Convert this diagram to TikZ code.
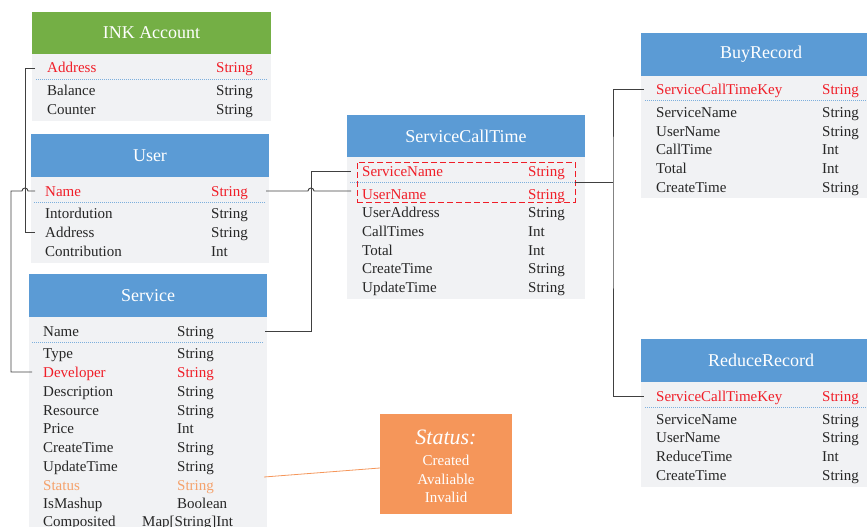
\documentclass[tikz,border=0pt]{standalone}
\usepackage{fontspec}
\setmainfont{Liberation Serif}
\definecolor{hblue}{HTML}{5B9BD5}
\definecolor{hgreen}{HTML}{74AF45}
\definecolor{bodyg}{HTML}{F1F2F4}
\definecolor{txt}{HTML}{262626}
\definecolor{kred}{HTML}{F01E28}
\definecolor{stor}{HTML}{F5A26C}
\definecolor{boxor}{HTML}{F5965A}
\definecolor{lnk}{HTML}{404040}
\newcommand{\fldfont}{\fontsize{15}{18}\selectfont}
\newcommand{\hdrfont}{\fontsize{18}{21}\selectfont}
\newcommand{\tbl}[8]{%
  \fill[#6] (#1,#2) rectangle (#3,#4);
  \fill[bodyg] (#1,#4) rectangle (#3,#5);
  \node[title] (#8) at ({(#1+#3)/2},{(#2+#4)/2}) {#7};}
\begin{document}
\begin{tikzpicture}[x=1pt,y=-1pt,
  fld/.style={anchor=west, inner sep=0pt, text height=10pt, text depth=0pt, font=\fldfont, text=txt},
  key/.style={fld, text=kred},
  stat/.style={fld, text=stor},
  title/.style={inner sep=0pt, font=\hdrfont, text=white},
  sep/.style={hblue!80, line width=0.8pt, dash pattern=on 1pt off 1pt},
  link/.style={lnk, line width=0.9pt},
  olink/.style={boxor, line width=0.8pt},
  sbox/.style={fill=boxor, inner sep=0pt, minimum width=132pt, minimum height=100pt, align=center, text=white}]
\useasboundingbox (0,0) rectangle (867,527);
\clip (0,0) rectangle (867,527);

% ---------- INK Account ----------
\tbl{32}{12}{271}{54}{121}{hgreen}{INK Account}{inkh}
\node[key] (inkA) at (47,68) {Address};
\node[key] (inkAt) at (216,68) {String};
\draw[sep] (36,79) -- (268,79);
\node[fld] (inkB) at (47,90) {Balance};
\node[fld] (inkBt) at (216,90) {String};
\node[fld] (inkC) at (47,109) {Counter};
\node[fld] (inkCt) at (216,109) {String};

% ---------- User ----------
\tbl{31}{134}{269}{177}{263}{hblue}{User}{userh}
\node[key] (uN) at (45,191) {Name};
\node[key] (uNt) at (211,191) {String};
\draw[sep] (34,202) -- (266,202);
\node[fld] (uI) at (45,213) {Intordution};
\node[fld] (uIt) at (211,213) {String};
\node[fld] (uA) at (45,232) {Address};
\node[fld] (uAt) at (211,232) {String};
\node[fld] (uC) at (45,251) {Contribution};
\node[fld] (uCt) at (211,251) {Int};

% ---------- Service ----------
\tbl{29}{274}{267}{317}{540}{hblue}{Service}{svch}
\node[fld] (sN) at (43,331) {Name};
\node[fld] (sNt) at (177,331) {String};
\draw[sep] (32,342) -- (263,342);
\node[fld] (sT) at (43,353) {Type};
\node[fld] (sTt) at (177,353) {String};
\node[key] (sD) at (43,372) {Developer};
\node[key] (sDt) at (177,372) {String};
\node[fld] (sDe) at (43,391) {Description};
\node[fld] (sDet) at (177,391) {String};
\node[fld] (sR) at (43,410) {Resource};
\node[fld] (sRt) at (177,410) {String};
\node[fld] (sP) at (43,428) {Price};
\node[fld] (sPt) at (177,428) {Int};
\node[fld] (sC) at (43,447) {CreateTime};
\node[fld] (sCt) at (177,447) {String};
\node[fld] (sU) at (43,466) {UpdateTime};
\node[fld] (sUt) at (177,466) {String};
\node[stat] (sS) at (43,485) {Status};
\node[stat] (sSt) at (177,485) {String};
\node[fld] (sM) at (43,503) {IsMashup};
\node[fld] (sMt) at (177,503) {Boolean};
\node[fld] (sCo) at (43,521) {Composited};
\node[fld] (sCot) at (142,521) {Map[String]Int};

% ---------- ServiceCallTime ----------
\tbl{347}{115}{585}{157}{299}{hblue}{ServiceCallTime}{scth}
\node[key] (cS) at (362,171) {ServiceName};
\node[key] (cSt) at (528,171) {String};
\draw[sep] (350,182) -- (575,182);
\node[key] (cU) at (362,194) {UserName};
\node[key] (cUt) at (528,194) {String};
\node[draw=kred, dash pattern=on 6pt off 3pt, line width=0.9pt, inner sep=0pt, minimum width=218pt, minimum height=40pt] (cbox) at (466,182) {};
\node[fld] (cUA) at (362,212) {UserAddress};
\node[fld] (cUAt) at (528,212) {String};
\node[fld] (cCT) at (362,231) {CallTimes};
\node[fld] (cCTt) at (528,231) {Int};
\node[fld] (cTo) at (362,250) {Total};
\node[fld] (cTot) at (528,250) {Int};
\node[fld] (cCr) at (362,268) {CreateTime};
\node[fld] (cCrt) at (528,268) {String};
\node[fld] (cUp) at (362,287) {UpdateTime};
\node[fld] (cUpt) at (528,287) {String};

% ---------- BuyRecord ----------
\tbl{641}{33}{881}{76}{198}{hblue}{BuyRecord}{buyh}
\node[key] (bK) at (656,89) {ServiceCallTimeKey};
\node[key] (bKt) at (822,89) {String};
\draw[sep] (645,100) -- (867,100);
\node[fld] (bS) at (656,112) {ServiceName};
\node[fld] (bSt) at (822,112) {String};
\node[fld] (bU) at (656,131) {UserName};
\node[fld] (bUt) at (822,131) {String};
\node[fld] (bC) at (656,149) {CallTime};
\node[fld] (bCt) at (822,149) {Int};
\node[fld] (bT) at (656,168) {Total};
\node[fld] (bTt) at (822,168) {Int};
\node[fld] (bCr) at (656,187) {CreateTime};
\node[fld] (bCrt) at (822,187) {String};

% ---------- ReduceRecord ----------
\tbl{641}{339}{881}{382}{487}{hblue}{ReduceRecord}{redh}
\node[key] (rK) at (656,396) {ServiceCallTimeKey};
\node[key] (rKt) at (822,396) {String};
\draw[sep] (645,407) -- (867,407);
\node[fld] (rS) at (656,419) {ServiceName};
\node[fld] (rSt) at (822,419) {String};
\node[fld] (rU) at (656,437) {UserName};
\node[fld] (rUt) at (822,437) {String};
\node[fld] (rR) at (656,456) {ReduceTime};
\node[fld] (rRt) at (822,456) {Int};
\node[fld] (rC) at (656,475) {CreateTime};
\node[fld] (rCt) at (822,475) {String};

% ---------- Status box ----------
\node[sbox] (stbox) at (446,464) {};
\node[inner sep=0pt, text=white, font=\fontsize{22}{24}\selectfont\itshape] (stT) at (446,437) {Status:};
\node[fld, anchor=center, text=white] (st1) at (446,460) {Created};
\node[fld, anchor=center, text=white] (st2) at (446,479) {Avaliable};
\node[fld, anchor=center, text=white] (st3) at (446,497) {Invalid};

% ---------- connectors ----------
% INK Address -- User Address
\draw[link] ([xshift=-12pt]inkA.west) -- ++(-10,0) |- ([xshift=-10pt]uA.west);
% User Name -- Service Developer (hop over vertical line)
\draw[link] ([xshift=-10pt]uN.west) -- ++(-7,0) arc (0:-180:3) -- (11,191) |- ([xshift=-11pt]sD.west);
% User Name -- ServiceCallTime UserName
\draw[link] ([xshift=18pt]uNt.east) -- (308,191) arc (180:360:3) -- ([xshift=-11pt]cU.west |- uNt.east);
% Service Name -- ServiceCallTime ServiceName
\draw[link] ([xshift=51pt]sNt.east) -| (311,171) -- ([xshift=-11pt]cS.west);
% ServiceCallTime key -- BuyRecord / ReduceRecord
\draw[link] (cbox.east) -- (613,182);
\draw[link] ([xshift=-12pt]bK.west) -| (613,183) |- ([xshift=-12pt]rK.west);
% Status
\draw[olink] ([xshift=50pt]sSt.east |- 0,477) -- (stbox.west |- 0,468);
\end{tikzpicture}
\end{document}
